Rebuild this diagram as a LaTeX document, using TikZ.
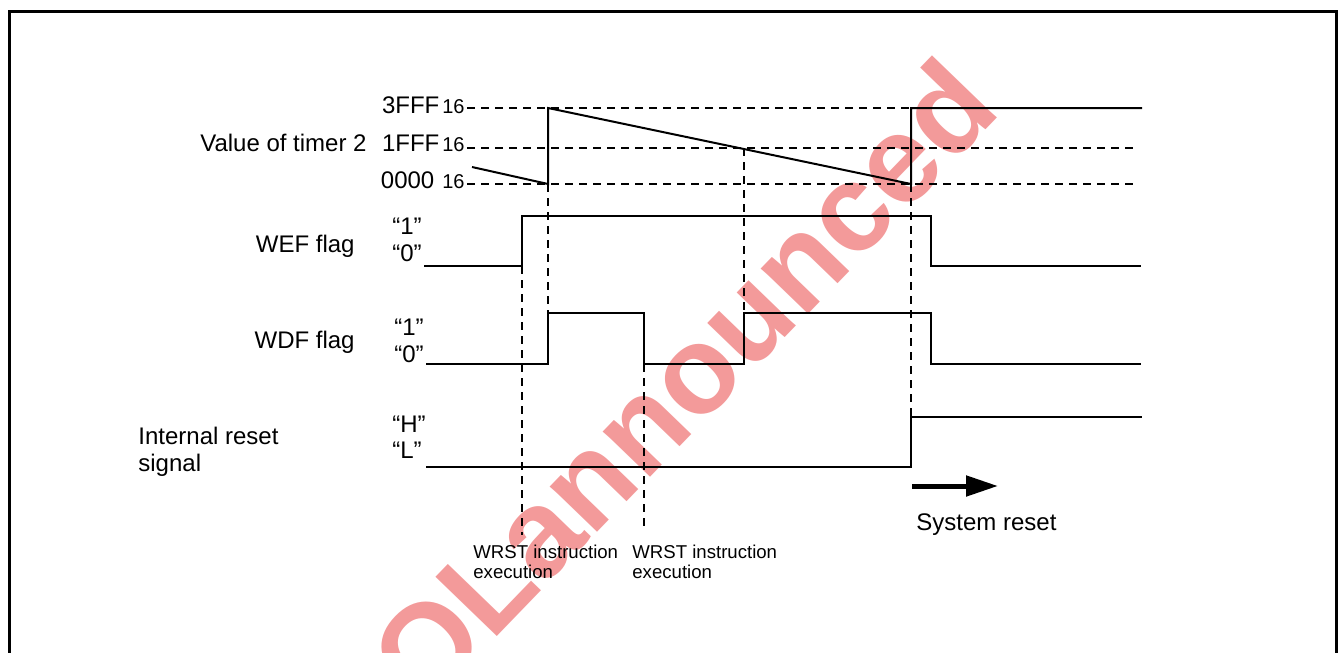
\documentclass[tikz,border=0pt]{standalone}
\usepackage{fontspec}
\setmainfont{Liberation Sans}
\usepackage{tikz}
\usetikzlibrary{arrows.meta}
\definecolor{wmred}{RGB}{228,30,30}

\begin{document}
\begin{tikzpicture}[x=0.5pt, y=-0.5pt, >=Stealth,
    signal/.style={line width=1pt},
    guide/.style={line width=0.6pt, dash pattern=on 4pt off 3pt},
    lbl/.style={inner sep=0pt, font=\fontsize{12}{14}\selectfont},
    small/.style={inner sep=0pt, font=\fontsize{9.3}{11}\selectfont}]
    \useasboundingbox (0,0) rectangle (1339,653);

    % Watermark
    \node[anchor=base west, rotate=46, inner sep=0pt, text=wmred, opacity=0.45,
          font=\fontsize{62}{66}\selectfont\bfseries] (wm) at (424,712) {OLannounced};

    % Frame
    \draw[line width=1.5pt] (9,660) -- (9,11) -- (1336,11) -- (1336,660);

    % Value of timer 2
    \node[lbl, anchor=base east] (timer) at (367,151) {Value of timer 2};
    \node[lbl, anchor=base east] (v3fff) at (465,113) {3FFF\kern1.5pt{\fontsize{10}{11}\selectfont 16}};
    \node[lbl, anchor=base east] (v1fff) at (465,151) {1FFF\kern1.5pt{\fontsize{10}{11}\selectfont 16}};
    \node[lbl, anchor=base east] (v0000) at (465,188) {0000\kern4pt{\fontsize{10}{11}\selectfont 16}};
    \draw[guide] (467,108) -- (911,108);
    \draw[guide] (467,148) -- (1133,148);
    \draw[guide] (467,184) -- (1133,184);
    \draw[signal] (472,167) -- (548,184) -- (548,108) -- (911,184) -- (911,108) -- (1142,108);

    % WEF flag
    \node[lbl, anchor=base east] (wef) at (355,252) {WEF flag};
    \node[lbl, anchor=base west] (wef1) at (392,234) {“1”};
    \node[lbl, anchor=base west] (wef0) at (392,261) {“0”};
    \draw[signal] (424,266) -- (522,266) -- (522,216) -- (931,216) -- (931,266) -- (1141,266);

    % WDF flag
    \node[lbl, anchor=base east] (wdf) at (355,348) {WDF flag};
    \node[lbl, anchor=base west] (wdf1) at (394,335) {“1”};
    \node[lbl, anchor=base west] (wdf0) at (394,362) {“0”};
    \draw[signal] (426,364) -- (548,364) -- (548,313) -- (644,313) -- (644,364)
        -- (744,364) -- (744,313) -- (931,313) -- (931,364) -- (1141,364);

    % Internal reset signal
    \node[lbl, anchor=base west] (rst) at (138,444) {Internal reset};
    \node[lbl, anchor=base west] (rst2) at (138,471) {signal};
    \node[lbl, anchor=base west] (rstH) at (392,432) {“H”};
    \node[lbl, anchor=base west] (rstL) at (392,458) {“L”};
    \draw[signal] (426,467) -- (911,467) -- (911,417) -- (1142,417);

    % Timing guides
    \draw[guide] (522,266) -- (522,535);
    \draw[guide] (548,184) -- (548,313);
    \draw[guide] (644,364) -- (644,528);
    \draw[guide] (744,148) -- (744,313);
    \draw[guide] (911,184) -- (911,417);

    % WRST instruction execution
    \node[small, anchor=base west] (wrstA) at (473,558) {WRST instruction};
    \node[small, anchor=base west] (wrstA2) at (473,578) {execution};
    \node[small, anchor=base west] (wrstB) at (632,558) {WRST instruction};
    \node[small, anchor=base west] (wrstB2) at (632,578) {execution};

    % System reset
    \coordinate (sysA) at (912,486);
    \coordinate (sysB) at (998,486);
    \draw[line width=2.5pt, -{Triangle[length=16pt, width=10pt]}] (sysA) -- (sysB);
    \node[lbl, anchor=base west] (sys) at (916,530) {System reset};
\end{tikzpicture}
\end{document}
